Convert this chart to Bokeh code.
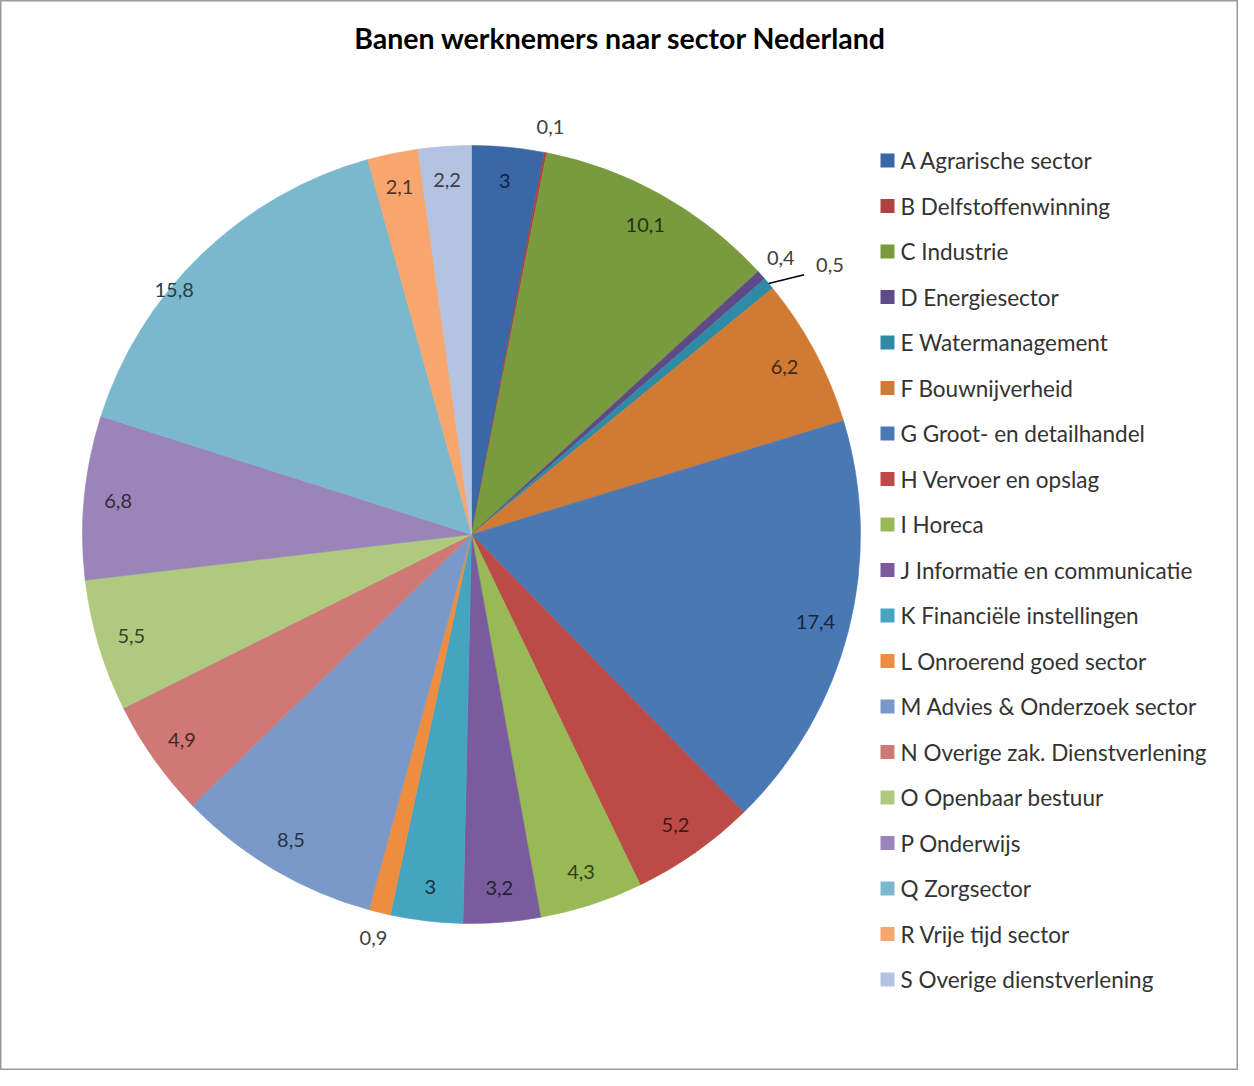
import math
from bokeh.plotting import figure
from bokeh.models import Range1d, ColumnDataSource
from bokeh.core.properties import value
from bokeh.embed import file_html
from bokeh.resources import INLINE

# ---- data ----
sectors = [
    "A Agrarische sector", "B Delfstoffenwinning", "C Industrie", "D Energiesector",
    "E Watermanagement", "F Bouwnijverheid", "G Groot- en detailhandel",
    "H Vervoer en opslag", "I Horeca", "J Informatie en communicatie",
    "K Financiële instellingen", "L Onroerend goed sector", "M Advies & Onderzoek sector",
    "N Overige zak. Dienstverlening", "O Openbaar bestuur", "P Onderwijs",
    "Q Zorgsector", "R Vrije tijd sector", "S Overige dienstverlening",
]
values = [3, 0.1, 10.1, 0.4, 0.5, 6.2, 17.4, 5.2, 4.3, 3.2, 3, 0.9, 8.5, 4.9, 5.5, 6.8, 15.8, 2.1, 2.2]
value_labels = ["3", "0,1", "10,1", "0,4", "0,5", "6,2", "17,4", "5,2", "4,3", "3,2",
                "3", "0,9", "8,5", "4,9", "5,5", "6,8", "15,8", "2,1", "2,2"]
colors = ["#3B67A6", "#B0413E", "#7A9A3F", "#5F4A87", "#2F8BA5", "#D07A33",
          "#4A78B4", "#BC4A47", "#98B955", "#7A5C9E", "#45A5C0", "#EE8C3F",
          "#7B99C8", "#CF7875", "#AFC97E", "#9B85B8", "#7AB8CE", "#F7A66E", "#B3C3E1"]
title = "Banen werknemers naar sector Nederland"

# ---- layout (screen pixels inside the figure) ----
W, H = 1238, 1070
FONT = "Lato"


def sx(x):  # page x -> data x
    return x - 8


def sy(y):  # page y -> data y
    return H + 8 - y


CX, CY, R = sx(479), sy(542), 389

p = figure(width=W, height=H, x_range=Range1d(0, W), y_range=Range1d(0, H),
           output_backend="svg", toolbar_location=None, min_border=0)
p.axis.visible = False
p.grid.visible = False
p.outline_line_color = "#9a9a9a"
p.outline_line_width = 2
p.background_fill_color = "white"
p.border_fill_color = "white"

total = sum(values)
starts, ends, mids = [], [], []
cum = 0.0
for v in values:
    a0 = math.pi / 2 - 2 * math.pi * cum / total
    cum += v
    a1 = math.pi / 2 - 2 * math.pi * cum / total
    starts.append(a0)
    ends.append(a1)
    mids.append((a0 + a1) / 2)

src = ColumnDataSource(dict(x=[CX] * len(values), y=[CY] * len(values),
                            start=starts, end=ends, color=colors))
p.wedge(x="x", y="y", radius=R, start_angle="start", end_angle="end",
        direction="clock", fill_color="color", line_color="color",
        line_width=0.6, source=src)


def darken(c, f=0.33):
    r, g, b = int(c[1:3], 16), int(c[3:5], 16), int(c[5:7], 16)
    return "#%02x%02x%02x" % (int(r * f), int(g * f), int(b * f))


LBL = "20px"
# inside labels
ix, iy, it, ic = [], [], [], []
# outside labels
ox, oy, ot = [], [], []
for i, v in enumerate(values):
    m = mids[i]
    if v >= 1:
        rr = 355
        if v > 15 and math.cos(m) < 0:
            # best-fit placement of the large left slice label (as in the original)
            m = m + math.radians(6.7)
            rr = 385
        ix.append(CX + rr * math.cos(m))
        iy.append(CY + rr * math.sin(m))
        it.append(value_labels[i])
        ic.append(darken(colors[i]))
    elif sectors[i].startswith("E"):
        # leader line to label
        x0, y0 = CX + R * math.cos(m), CY + R * math.sin(m)
        m2 = m - math.radians(2.2)
        x1, y1 = CX + 422 * math.cos(m2), CY + 422 * math.sin(m2)
        p.line([x0, x1], [y0, y1], line_color="#000000", line_width=1.5)
        p.text([x1 + 12], [y1 + 10], text=[value_labels[i]], text_align="left",
               text_baseline="middle", text_font=value(FONT), text_font_size=LBL,
               text_color="#404040")
    else:
        ox.append(CX + 415 * math.cos(m))
        oy.append(CY + 415 * math.sin(m))
        ot.append(value_labels[i])

p.text(ix, iy, text=it, text_color=ic, text_align="center", text_baseline="middle",
       text_font=value(FONT), text_font_size=LBL)
p.text(ox, oy, text=ot, text_color="#404040", text_align="center", text_baseline="middle",
       text_font=value(FONT), text_font_size=LBL)

# title
p.text([sx(628)], [sy(45)], text=[title], text_align="center", text_baseline="middle",
       text_font=value(FONT), text_font_size="28.5px", text_font_style="bold",
       text_color="#000000")

# legend
ly = [sy(168 + 45.5 * i) for i in range(len(sectors))]
p.rect([sx(895)] * len(sectors), ly, width=14, height=14, fill_color=colors,
       line_color=None)
p.text([sx(908)] * len(sectors), ly, text=sectors, text_align="left",
       text_baseline="middle", text_font=value(FONT), text_font_size="22.5px",
       text_color="#333333")

open("out.html", "w").write(file_html(p, INLINE))
